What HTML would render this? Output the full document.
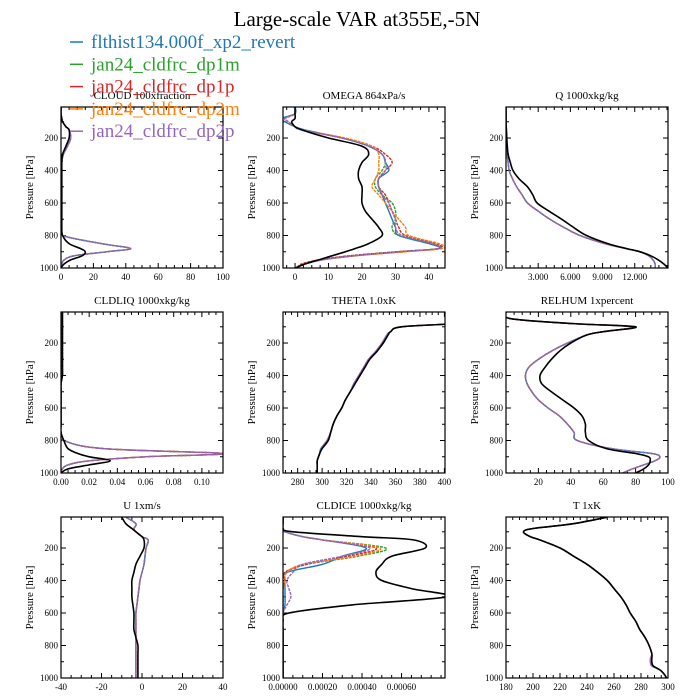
<!DOCTYPE html>
<html><head><meta charset="utf-8"><style>
body{margin:0;background:#fff}
svg{display:block;font-family:"Liberation Serif",serif}
</style></head><body>
<svg id="c" width="700" height="700" viewBox="0 0 700 700">
<text x="357" y="26" font-size="21" text-anchor="middle">Large-scale VAR at355E,-5N</text>
</svg>
<script>
const NS="http://www.w3.org/2000/svg";
const svg=document.getElementById('c');
const seriesNames=["flthist134.000f_xp2_revert","jan24_cldfrc_dp1m","jan24_cldfrc_dp1p","jan24_cldfrc_dp2m","jan24_cldfrc_dp2p"];
const seriesColors=["#1f77b4","#2ca02c","#d62728","#ff7f0e","#9467bd"];
const levels=[10,50,80,100,130,150,200,250,300,350,400,450,500,550,600,650,700,750,800,850,880,900,925,950,975,1000];
const yTicks=[200,400,600,800,1000];
const panelTitles=["CLOUD  100xfraction","OMEGA  864xPa/s","Q  1000xkg/kg","CLDLIQ  1000xkg/kg","THETA  1.0xK","RELHUM  1xpercent","U  1xm/s","CLDICE  1000xkg/kg","T  1xK"];
const xDomains=[[0,100],[-3.6,44.8],[0,15.1],[0,0.115],[268,400.5],[0,100],[-40,40],[0,0.00082],[180,300]];
const xTickVals=[[0,20,40,60,80,100],[0,10,20,30,40],[3,6,9,12],[0,0.02,0.04,0.06,0.08,0.10],[280,300,320,340,360,380,400],[20,40,60,80,100],[-40,-20,0,20,40],[0,0.0002,0.0004,0.0006],[180,200,220,240,260,280,300]];
const xTickLabels=[["0","20","40","60","80","100"],["0","10","20","30","40"],["3.000","6.000","9.000","12.000"],["0.00","0.02","0.04","0.06","0.08","0.10"],["280","300","320","340","360","380","400"],["20","40","60","80","100"],["-40","-20","0","20","40"],["0.00000","0.00020","0.00040","0.00060"],["180","200","220","240","260","280","300"]];
const cloudBlack=[0,0,0.5,1,3,5,5,3,1,0.5,0.5,0.5,0.5,0.5,0.5,0.5,0.5,0.5,1,5,12,15,13,6,2,0];
const cloudModel=[0,0,0.5,1,3,5,6,4,1.5,0.5,0.5,0.5,0.5,0.5,0.5,0.5,0.5,0.5,1,25,43,28,8,2,0.5,0];
const omegaBlack=[0,0,0,-1,0,2,10,20,22,20,19,19,20,20,20,21,23,25,26,22,18,15,11,7,3,0];
const omegaBlue=[0,0,-4,-3,0,3,14,22,26,27,28,25,25,26,27,28,29,30,31,40,43,32,18,8,3,0.5];
const omegaGreen=[0,0,-3,-2,0,2,14,22,26,27,26,24,24,26,29,30,30,29,31,41,43,31,17,8,3,0.5];
const omegaRed=[0,0,-3,-2,0,2,14,23,27,29,27,25,25,27,28,29,30,31,33,42,43,30,16,7,2,0.5];
const omegaOrange=[0,0,-3,-2,0,2,15,23,25,25,25,24,23,25,27,29,31,33,34,43,44,33,18,8,3,0.5];
const omegaPurple=[0,0,-3,-2,0,2,14,22,26,27,27,25,25,26,28,29,30,30,32,41,43,31,17,8,3,0.5];
const qBlack=[0,0,0,0,0.02,0.04,0.07,0.12,0.2,0.4,0.65,1.2,2.0,2.5,2.9,4.0,5.2,6.3,7.5,9.5,11.2,12.5,13.5,14.2,14.7,15.1];
const qModel=[0,0,0,0,0.02,0.03,0.05,0.08,0.1,0.2,0.3,0.6,1.0,1.5,2.0,3.0,4.1,5.4,6.9,9.2,11.2,12.5,13.3,13.7,13.9,13.9];
const liqBlack=[0.001,0.001,0.001,0.001,0.001,0.001,0.001,0.001,0.001,0.001,0.001,0,0,0,0,0,0,0,0.002,0.005,0.012,0.02,0.035,0.02,0.005,0];
const liqModel=[0.001,0.001,0.001,0.001,0.001,0.001,0.001,0.001,0.001,0.001,0.001,0,0,0,0,0,0,0,0.002,0.03,0.115,0.06,0.02,0.005,0.001,0];
const thetaBlack=[500,450,410,365,356,354,350,345,339,335,331,327,323,319,316,312,309,307,305,300,298,297,296,296,296,296];
const thetaModel=[500,450,410,365,356,353,349,344,338,334,330,326,323,319,316,312,309,307,304,299,298,297,296,296,296,296];
const rhBlack=[0,3,40,80,60,50,40,33,28,24,21,22,28,35,42,47,49,49,51,62,80,88,89,88,85,80];
const rhModel=[0,3,40,78,60,50,38,28,20,14,12,13,16,20,26,33,38,42,44,65,90,95,92,85,78,72];
const uBlack=[-10,-8,-5,-3,0,1,1,-1,-3,-4,-5,-5,-5,-4.5,-4,-4,-4,-3,-2,-2,-2,-2,-2,-2,-2,-2];
const uModel=[-8,-3,-4,-3,0,3,2,1.5,1,0,-1,-1.5,-2,-2.5,-3,-3,-3,-3,-3,-3,-3,-3,-3,-3,-3,-3];
const iceBlack=[0,0,0,0.00005,0.0004,0.00066,0.00072,0.00055,0.0005,0.00047,0.0005,0.00065,0.00083,0.00035,0.00003,0,0,0,0,0,0,0,0,0,0,0];
const iceBlue=[0,0,0,0.00001,0.0001,0.0002,0.00042,0.0003,0.0002,0.00002,0.00001,0.00001,0.00001,0.00001,0,0,0,0,0,0,0,0,0,0,0,0];
const iceGreen=[0,0,0,0.00001,0.0001,0.0002,0.00052,0.00038,0.00012,0.00001,0.00001,0,0,0,0,0,0,0,0,0,0,0,0,0,0,0];
const iceRed=[0,0,0,0.00001,0.0001,0.0002,0.00047,0.00033,0.00012,0.00001,0.00001,0,0,0,0,0,0,0,0,0,0,0,0,0,0,0];
const iceOrange=[0,0,0,0.00001,0.0001,0.0002,0.00049,0.00036,0.0001,0.00002,0.00001,0,0,0,0,0,0,0,0,0,0,0,0,0,0,0];
const icePurple=[0,0,0,0.00001,0.0001,0.0002,0.00044,0.0003,0.0001,0.00005,0.00002,0.00003,0.00004,0.00002,0,0,0,0,0,0,0,0,0,0,0,0];
const tBlack=[255,230,200,193,198,205,220,230,240,248,255,260,265,269,272,276,279,283,286,288,288,288,289,294,297,299];
const tModel=[255,230,200,193,198,205,220,230,240,248,255,260,265,269,272,276,279,283,286,288,287,287,288,294,297,299];
const panelColored=[
 [cloudModel,cloudModel,cloudModel,cloudModel,cloudModel],
 [omegaBlue,omegaGreen,omegaRed,omegaOrange,omegaPurple],
 [qModel,qModel,qModel,qModel,qModel],
 [liqModel,liqModel,liqModel,liqModel,liqModel],
 [thetaModel,thetaModel,thetaModel,thetaModel,thetaModel],
 [rhModel,rhModel,rhModel,rhModel,rhModel],
 [uModel,uModel,uModel,uModel,uModel],
 [iceBlue,iceGreen,iceRed,iceOrange,icePurple],
 [tModel,tModel,tModel,tModel,tModel]];
const panelBlack=[cloudBlack,omegaBlack,qBlack,liqBlack,thetaBlack,rhBlack,uBlack,iceBlack,tBlack];

const colX=[61,283,506], rowY=[107,312,517], W=162, H=161, PMIN=9;
function mk(tag,attrs,parent){const e=document.createElementNS(NS,tag);for(const k in attrs)e.setAttribute(k,attrs[k]);(parent||svg).appendChild(e);return e;}
function smoothPath(pts){let d='M'+pts[0][0].toFixed(1)+','+pts[0][1].toFixed(1);
  for(let i=0;i<pts.length-1;i++){const p0=pts[i-1]||pts[i],p1=pts[i],p2=pts[i+1],p3=pts[i+2]||p2;
    const c1=[p1[0]+(p2[0]-p0[0])/6,p1[1]+(p2[1]-p0[1])/6],c2=[p2[0]-(p3[0]-p1[0])/6,p2[1]-(p3[1]-p1[1])/6];
    d+=` C${c1[0].toFixed(1)},${c1[1].toFixed(1)} ${c2[0].toFixed(1)},${c2[1].toFixed(1)} ${p2[0].toFixed(1)},${p2[1].toFixed(1)}`;}
  return d;}

panelTitles.forEach((title,i)=>{
  const x0=colX[i%3], y0=rowY[Math.floor(i/3)];
  const g=mk('g',{});
  
  
  const [d0,d1]=xDomains[i];
  const sx=v=>x0+(v-d0)/(d1-d0)*W;
  const sy=p=>y0+(p-PMIN)/(1000-PMIN)*H;
  const clipId='clip'+i;
  const cp=mk('clipPath',{id:clipId},g); mk('rect',{x:x0,y:y0,width:W,height:H},cp);
  const t=mk('text',{x:x0+W/2,y:y0-8,'font-size':11,'text-anchor':'middle'},g);t.textContent=title;
  
  
  const yl=mk('text',{x:0,y:0,'font-size':11,'text-anchor':'middle',transform:`translate(${x0-28},${y0+H/2}) rotate(-90)`},g);yl.textContent='Pressure [hPa]';
  
  
  for(let p=100;p<=1000;p+=100){const y=sy(p);const maj=p%200===0;
    mk('line',{x1:x0,x2:x0+(maj?5:3),y1:y,y2:y,stroke:'#000','stroke-width':1},g);
    mk('line',{x1:x0+W,x2:x0+W-(maj?5:3),y1:y,y2:y,stroke:'#000','stroke-width':1},g);
    if(maj){const l=mk('text',{x:x0-3,y:y+3,'font-size':9,'text-anchor':'end'},g);l.textContent=p;
      
      }}
  const tv=xTickVals[i], step=tv.length>1?tv[1]-tv[0]:1;
  for(let v=tv[0]-step;v<=d1+1e-12;v+=step/4){ if(v<d0-1e-12)continue;const x=sx(v);
    const maj=tv.some(q=>Math.abs(q-v)<step*1e-3);
    mk('line',{x1:x,x2:x,y1:y0+H,y2:y0+H-(maj?5:3),stroke:'#000'},g);
    mk('line',{x1:x,x2:x,y1:y0,y2:y0+(maj?5:3),stroke:'#000'},g);}
  tv.forEach((v,k)=>{const l=mk('text',{x:sx(v),y:y0+H+12,'font-size':9,'text-anchor':'middle'},g);l.textContent=xTickLabels[i][k];
    
    });
  const lg=mk('g',{'clip-path':`url(#${clipId})`},g);
  const line=(arr,color,dash,w)=>{const pts=arr.map((v,k)=>[sx(v),sy(levels[k])]);
    return mk('path',{d:smoothPath(pts),fill:'none',stroke:color,'stroke-width':w,'stroke-dasharray':dash,'stroke-linejoin':'round'},lg);};
  panelColored[i].forEach((arr,s)=>{const pl=line(arr,seriesColors[s],s===0?'none':'3,1',1.4);
    
    });
  const bl=line(panelBlack[i],'#000','none',1.6);
  
  
  const fr=mk('rect',{x:x0,y:y0,width:W,height:H,fill:'none',stroke:'#000','stroke-width':1.2},g);
  
  
});
seriesNames.forEach((n,s)=>{const y=42+s*22.3;
  const g=mk('g',{});
  
  
  mk('line',{x1:70,x2:83,y1:y,y2:y,stroke:seriesColors[s],'stroke-width':1.5},g);
  const t=mk('text',{x:91,y:y+6,'font-size':19,fill:seriesColors[s]},g);t.textContent=n;});
</script>
</body></html>
